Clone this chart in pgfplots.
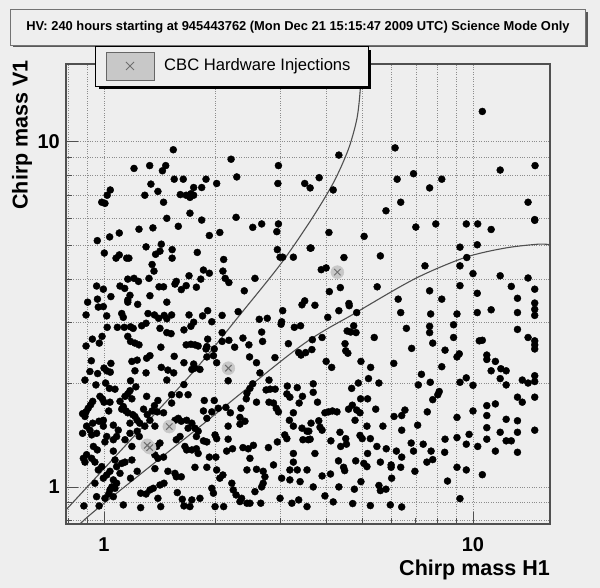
\documentclass[border=0pt]{standalone}
\usepackage{fontspec}
\setmainfont{Liberation Sans}
\usepackage{pgfplots}
\pgfplotsset{compat=1.18}
\definecolor{bg}{RGB}{238,238,238}
\definecolor{frame}{RGB}{80,80,80}
\definecolor{gridc}{RGB}{140,140,140}
\definecolor{curve}{RGB}{80,80,80}
\definecolor{injfill}{RGB}{200,200,200}
\definecolor{injx}{RGB}{110,110,110}

\begin{document}
\begin{tikzpicture}
\fill[bg] (0pt,0pt) rectangle (600pt,588pt);
\useasboundingbox (0pt,0pt) rectangle (600pt,588pt);

\begin{axis}[
    at={(66pt,64pt)}, anchor=south west,
    scale only axis, width=484pt, height=460pt,
    xmode=log, ymode=log,
    xmin=0.789, xmax=16.17, ymin=0.781, ymax=16.8,
    xtick={1,10}, xticklabels={1,10},
    ytick={1,10}, yticklabels={1,10},
    minor xtick={0.8,0.9,2,3,4,5,6,7,8,9},
    minor ytick={0.8,0.9,2,3,4,5,6,7,8,9},
    grid=both,
    grid style={gridc, line width=0.6pt, dash pattern=on 1pt off 1.4pt},
    minor grid style={gridc, line width=0.6pt, dash pattern=on 1pt off 1.4pt},
    xtick pos=bottom, ytick pos=left,
    tick align=inside,
    major tick length=12pt, minor tick length=6pt,
    tick style={frame, line width=0.8pt},
    axis line style={frame, line width=1.2pt},
    ticklabel style={font=\fontsize{20}{20}\selectfont\bfseries, inner sep=0pt},
    xticklabel style={anchor=center, yshift=-21pt},
    yticklabel style={anchor=east, xshift=-6pt},
    xlabel={Chirp mass H1},
    ylabel={Chirp mass V1},
    label style={font=\fontsize{21.5}{22}\selectfont\bfseries, inner sep=0pt},
    xlabel style={at={(axis description cs:1,-0.1)}, anchor=east},
    ylabel style={at={(axis description cs:-0.0909,1.0087)}, anchor=east},
]

% candidate events
\addplot[only marks, mark=*, mark size=3.5pt, mark options={fill=black, draw=black}] coordinates {
% top left
(1.10,15.06) (1.82,15.4) (1.541,9.48) (2.21,8.9) (1.206,8.37) (1.33,8.53) (1.47,8.53) (1.44,8.24) (2.97,8.53) (2.29,7.91)
(1.55,7.79) (1.64,7.79) (1.89,7.79) (1.34,7.54) (2.02,7.57) (2.96,7.57) (3.50,7.57) (1.04,7.25) (1.75,7.37) (1.84,7.37)
(1.40,7.18) (1.02,7.0) (1.29,7.0) (1.61,7.03) (1.67,7.0) (1.72,7.07) (1.71,6.9) (1.75,7.0) (0.986,6.68) (1.006,6.63)
(1.45,6.68) (1.71,6.21) (1.48,6.0) (1.84,5.93) (2.28,6.04) (3.62,7.35)
% top right
(10.6,12.24) (6.15,9.6) (4.33,9.15) (11.85,8.28) (14.73,8.53) (3.83,7.87) (6.23,7.79) (6.9,8.08) (8.23,7.79) (7.63,7.35)
(4.18,7.25) (6.37,6.68) (14.1,6.68) (5.81,6.31) (14.7,5.95)
% middle left
(2.53,5.65) (2.675,5.78) (2.97,5.78) (2.94,5.49) (1.244,5.58) (1.357,5.63) (1.59,5.69) (1.10,5.44) (1.036,5.30) (0.959,5.17)
(1.93,5.35) (2.06,5.46) (1.002,4.76) (1.30,4.96) (1.43,5.05) (1.418,4.82) (1.38,4.72) (1.53,4.87) (1.53,4.60) (1.79,4.78)
(2.95,4.87) (3.0,4.63) (3.05,4.63) (3.26,4.63) (3.62,4.92) (1.078,4.60) (1.10,4.70) (1.152,4.60) (1.168,4.60) (2.11,4.56)
(1.35,4.41) (1.366,4.22) (1.86,4.25) (1.93,4.16) (2.10,4.22) (2.13,4.02) (2.18,3.91) (1.70,4.09) (1.83,4.0) (2.565,4.02)
(1.16,4.0) (1.206,4.02) (1.24,3.94) (1.324,4.02) (1.57,3.94) (1.557,3.87) (1.67,3.83) (1.62,3.73) (1.78,3.79) (0.955,3.82)
(0.996,3.74) (1.105,3.82) (1.138,3.76) (1.41,3.80) (1.45,3.80) (2.40,3.70) (1.044,3.56) (1.176,3.59) (1.16,3.48) (1.16,3.43)
(1.234,3.38) (1.332,3.58) (1.48,3.43) (0.96,3.50) (0.903,3.43) (0.965,3.32) (0.996,3.33) (3.50,3.46) (3.44,3.37) (3.05,3.24)
(0.894,3.15) (1.017,3.13) (1.117,3.18) (1.128,3.10) (1.316,3.18) (1.37,3.15) (1.406,3.08) (1.456,3.14) (1.48,3.07) (1.525,3.15)
(1.70,3.15) (1.85,3.13) (1.91,3.24) (1.96,3.01) (2.09,3.14) (2.31,3.22) (2.635,3.06) (2.77,3.08) (3.03,3.01) (3.02,2.96)
(1.75,3.0) (1.72,2.92) (1.30,2.98) (1.265,2.93) (1.20,2.88) (1.18,2.91) (1.135,2.90) (1.087,2.90) (1.02,2.90) (1.418,2.88)
(1.48,2.80) (1.52,2.78) (1.647,2.85) (2.09,2.80) (2.675,2.81) (3.28,2.90) (3.41,2.93) (0.93,2.68) (0.988,2.73) (0.971,2.61)
(0.894,2.56) (1.16,2.73) (1.18,2.64) (1.213,2.61) (1.244,2.58) (1.426,2.54) (1.67,2.58) (1.72,2.59) (1.764,2.58) (1.80,2.56)
(1.91,2.68) (1.90,2.55) (1.89,2.51) (1.99,2.51) (2.09,2.64) (2.18,2.66) (2.26,2.54) (2.38,2.70) (2.47,2.58) (2.69,2.64)
(3.16,2.60) (3.37,2.45) (3.42,2.41) (3.52,2.45) (0.924,2.32) (1.044,2.28) (1.19,2.31) (1.23,2.33) (1.305,2.36) (1.332,2.40)
(1.55,2.39) (1.647,2.29) (1.75,2.27) (1.764,2.21) (1.73,2.19) (1.90,2.38) (1.98,2.40) (2.02,2.29) (2.48,2.38) (2.59,2.29)
(2.906,2.37) (1.43,2.22) (1.49,2.18) (1.545,2.14) (1.213,2.17) (1.30,2.14) (1.0,2.21) (1.017,2.17) (1.04,2.15) (0.916,2.16)
(0.961,2.13) (1.82,2.19) (2.646,2.14)
% middle right
(4.07,5.46) (5.07,5.32) (7.0,5.66) (7.93,5.78) (9.59,5.78) (10.3,5.78) (11.2,5.57) (14.7,5.92) (3.64,4.92) (4.47,4.62)
(5.61,4.67) (9.22,4.95) (10.27,5.03) (7.41,4.37) (9.22,4.37) (3.88,4.26) (4.0,4.31) (9.62,4.62) (10.0,4.15) (11.85,4.09)
(14.1,4.03) (4.08,3.68) (4.37,3.78) (5.5,3.80) (7.63,3.70) (8.23,3.50) (9.22,3.83) (10.27,3.64) (12.7,3.81) (14.7,3.74)
(13.2,3.52) (3.73,3.36) (4.61,3.40) (4.62,3.35) (4.33,3.24) (4.84,3.2) (6.27,3.50) (6.37,3.2) (7.68,3.17) (9.05,3.17)
(10.27,3.2) (11.2,3.26) (13.2,3.2) (14.7,3.41) (14.7,3.27) (14.7,3.14) (4.04,3.10) (4.75,2.93) (4.56,2.83) (4.66,2.81)
(4.82,2.80) (6.6,2.88) (7.63,2.92) (7.63,2.80) (8.86,2.95) (8.86,2.71) (13.2,2.86) (14.1,2.71) (14.7,2.65) (14.7,2.58)
(14.7,2.51) (10.4,2.65) (10.6,2.66) (3.67,2.67) (3.9,2.71) (3.66,2.50) (4.50,2.60) (4.52,2.48) (4.58,2.44) (5.40,2.71)
(6.82,2.52) (7.78,2.61) (8.40,2.49) (9.18,2.43) (9.05,2.38) (10.9,2.41) (10.9,2.34) (11.5,2.31) (4.0,2.31) (4.14,2.22)
(4.97,2.31) (5.28,2.22) (6.1,2.28) (8.23,2.23) (11.2,2.17) (11.9,2.20) (12.3,2.17) (7.25,2.12)
% bottom left
(0.888,2.04) (0.951,1.975) (1.01,2.0) (1.034,1.93) (1.071,1.92) (1.18,2.03) (1.22,1.95) (1.176,1.90) (1.48,2.04) (1.647,1.98)
(2.17,2.03) (2.53,1.99) (2.486,1.93) (2.80,2.04) (3.14,1.96) (3.34,1.94) (2.82,1.92) (2.91,1.92)
(0.932,1.77) (0.92,1.73) (0.975,1.83) (0.99,1.80) (1.0,1.76) (1.038,1.76) (0.906,1.69) (0.894,1.65) (0.875,1.63) (0.888,1.60)
(1.03,1.66) (1.105,1.77) (1.14,1.83) (1.16,1.86) (1.19,1.80) (1.128,1.71) (1.117,1.68) (1.147,1.66) (1.16,1.64) (1.196,1.62)
(1.213,1.60) (1.23,1.56) (1.28,1.68) (1.305,1.83) (1.37,1.72) (1.40,1.78) (1.35,1.66) (1.394,1.65) (1.31,1.62) (1.45,1.64)
(1.525,1.85) (1.60,1.85) (1.69,1.85) (1.525,1.75) (1.87,1.78) (1.99,1.78) (2.04,1.69) (1.86,1.66) (1.96,1.65) (2.14,1.70)
(2.20,1.64) (2.35,1.69) (2.43,1.80) (2.44,1.87) (2.59,1.76) (2.75,1.91) (2.80,1.76) (2.88,1.75) (2.93,1.69) (2.97,1.65)
(3.13,1.86) (3.19,1.82) (3.45,1.83) (3.38,1.75) (3.26,1.64)
(0.996,1.56) (0.969,1.55) (0.932,1.53) (0.897,1.50) (0.916,1.46) (0.875,1.43) (0.926,1.415) (0.955,1.43) (0.996,1.50) (1.06,1.51)
(1.093,1.46) (1.082,1.40) (1.06,1.37) (1.017,1.40) (1.006,1.35) (1.176,1.53) (1.25,1.53) (1.23,1.45) (1.176,1.43) (1.14,1.37)
(1.19,1.31) (1.246,1.40) (1.29,1.50) (1.374,1.50) (1.332,1.56) (1.418,1.34) (1.39,1.31) (1.557,1.56) (1.59,1.58) (1.62,1.55)
(1.675,1.56) (1.69,1.48) (1.73,1.53) (1.764,1.48) (1.80,1.45) (1.78,1.40) (1.57,1.37) (1.607,1.40) (1.657,1.31) (1.90,1.58)
(2.17,1.50) (2.336,1.59) (2.336,1.52) (2.41,1.55) (2.0,1.415) (1.90,1.35) (1.86,1.36) (2.02,1.38) (2.17,1.375) (3.18,1.56)
(3.26,1.50) (3.44,1.48) (3.55,1.45) (3.46,1.37) (3.58,1.37) (2.95,1.35) (3.09,1.415) (3.13,1.38) (2.79,1.30)
(0.936,1.31) (0.959,1.28) (0.897,1.24) (0.879,1.21) (0.888,1.18) (0.926,1.21) (0.945,1.18) (0.965,1.12) (0.986,1.145) (0.996,1.06)
(1.017,1.083) (1.038,1.11) (1.06,1.27) (1.071,1.197) (1.117,1.17) (1.14,1.18) (1.19,1.197) (1.082,1.145) (1.105,1.095) (1.06,1.048)
(1.082,1.025) (1.18,1.06) (1.23,1.11) (1.374,1.238) (1.40,1.21) (1.45,1.22) (1.374,1.13) (1.675,1.28) (1.73,1.28) (1.78,1.29)
(1.80,1.25) (1.49,1.11) (1.557,1.095) (1.57,1.07) (1.62,1.07) (1.764,1.14) (1.90,1.14) (1.93,1.22) (2.01,1.22) (2.02,1.12)
(2.10,1.083) (2.06,1.06) (2.15,1.27) (2.23,1.29) (2.38,1.30) (2.46,1.29) (2.54,1.32) (2.486,1.21) (2.44,1.12) (2.59,1.125)
(2.70,1.11) (2.73,1.07) (2.88,1.158) (3.03,1.06) (3.19,1.12) (3.34,1.12) (3.40,1.036) (3.26,1.25) (3.26,1.18) (3.55,1.12)
(0.945,1.025) (0.955,0.937) (1.006,0.927) (1.03,0.954) (1.06,0.937) (1.05,1.0) (1.038,0.98) (1.071,0.991) (0.882,0.881) (0.97,0.881)
(1.128,0.887) (1.257,0.871) (1.257,0.959) (1.30,0.954) (1.332,0.98) (1.36,0.991) (1.418,1.013) (1.454,1.025) (1.40,0.927) (1.425,0.877)
(1.58,0.963) (1.63,0.921) (1.647,0.881) (1.71,0.877) (1.73,0.917) (1.82,0.927) (1.96,0.991) (1.98,0.959) (2.0,0.877) (2.11,0.877)
(2.22,1.025) (2.24,0.98) (2.28,0.948) (2.36,0.927) (2.336,0.907) (2.44,0.897) (2.486,0.897) (2.565,0.969) (2.675,1.0) (2.70,1.025)
(2.66,0.897) (3.0,0.927) (3.23,0.897) (3.37,0.917) (3.55,0.877) (3.19,1.048)
% bottom right
(3.69,1.99) (3.69,1.88) (3.79,1.76) (4.69,1.93) (4.89,2.0) (5.21,2.06) (5.56,2.0) (7.11,1.975) (7.66,2.01) (9.22,2.01)
(9.59,2.07) (10.0,1.97) (11.85,2.06) (12.3,1.975) (13.6,2.04) (14.1,2.0) (14.7,2.10) (14.7,2.02) (14.7,1.82) (13.2,1.82)
(13.6,1.76) (3.97,1.64) (4.06,1.65) (4.16,1.66) (4.28,1.65) (4.60,1.68) (4.71,1.725) (4.84,1.67) (4.94,1.64) (4.96,1.80)
(5.18,1.80) (5.45,1.68) (4.79,1.56) (3.64,1.53) (3.59,1.45) (3.82,1.555) (3.85,1.49) (3.90,1.46) (3.62,1.375) (3.73,1.25)
(4.12,1.36) (4.36,1.44) (4.52,1.38) (4.38,1.31) (4.54,1.33) (4.94,1.41) (5.01,1.38) (5.27,1.38) (5.16,1.50) (5.70,1.50)
(6.11,1.60) (6.41,1.61) (6.54,1.67) (6.41,1.46) (7.52,1.65) (7.78,1.79) (8.03,1.85) (8.1,1.89) (7.08,1.51) (5.49,1.31)
(5.82,1.29) (5.18,1.25) (6.2,1.27) (6.41,1.22) (6.8,1.34) (6.9,1.27) (7.33,1.33) (7.7,1.27) (7.78,1.20) (7.5,1.18)
(8.4,1.375) (8.38,1.26) (9.05,1.59) (9.05,1.39) (9.59,1.33) (9.76,1.42) (10.0,1.66) (10.3,1.31) (10.9,1.72) (10.9,1.61)
(10.9,1.485) (10.9,1.375) (11.5,1.74) (11.5,1.27) (11.85,1.44) (12.3,1.57) (12.3,1.36) (12.7,1.36) (13.2,1.555) (13.2,1.44)
(13.2,1.26) (14.7,1.46) (4.32,1.19) (4.81,1.19) (5.06,1.17) (5.16,1.145) (4.46,1.14) (4.49,1.115) (5.61,1.18) (6.0,1.158)
(6.0,1.14) (6.37,1.14) (6.02,1.06) (6.96,1.11) (8.53,1.04) (9.05,1.14) (9.59,1.12) (10.6,1.085) (3.9,1.076) (4.11,1.09)
(4.97,1.036) (4.77,0.985) (3.69,1.0) (4.33,1.0) (5.56,1.01) (5.61,0.976) (5.81,0.985) (3.97,0.942) (4.18,0.905) (4.72,0.895)
(5.27,0.883) (5.97,0.887) (6.41,0.875) (9.22,0.925)
};

% reference curves
\addplot[curve, line width=1.1pt, smooth] coordinates {
(0.789,0.858) (1.176,1.362) (1.765,2.184) (2.336,3.153) (3.0,4.40) (3.617,5.875) (4.18,7.59) (4.59,9.48) (4.84,11.58) (4.94,13.84) (4.99,16.8)
};
\addplot[curve, line width=1.1pt, smooth] coordinates {
(0.861,0.781) (0.975,0.877) (1.82,1.496) (3.398,2.551) (4.79,3.188) (6.96,4.01) (9.51,4.62) (12.21,4.92) (15.03,5.05) (16.17,5.03)
};

% CBC hardware injections
\addplot[only marks, mark=*, mark size=6.5pt, mark options={fill=injfill, draw=injfill}] coordinates {
(4.29,4.19) (2.173,2.208) (1.503,1.496) (1.31,1.32) (1.33,1.30)
};
\addplot[only marks, mark=x, mark size=4.5pt, mark options={draw=injx, line width=1pt}] coordinates {
(4.29,4.19) (2.173,2.208) (1.503,1.496) (1.31,1.32) (1.33,1.30)
};
\end{axis}

% title box
\fill[black!65] (13pt,541pt) rectangle (587.5pt,576.4pt);
\filldraw[fill=bg, draw=black!55, line width=0.6pt] (10.7pt,543pt) rectangle (585.5pt,578.4pt);
\node[font=\fontsize{12.9}{14}\selectfont\bfseries] at (298pt,560.7pt) {HV: 240 hours starting at 945443762 (Mon Dec 21 15:15:47 2009 UTC) Science Mode Only};

% legend
\fill[black] (99pt,499pt) rectangle (371pt,538.3pt);
\filldraw[fill=bg, draw=black, line width=0.8pt] (95.7pt,502pt) rectangle (368pt,541.3pt);
\filldraw[fill=injfill, draw=black!60, line width=0.8pt] (106pt,508pt) rectangle (154pt,536pt);
\draw[injx, line width=0.8pt] (126pt,518pt) -- (134pt,526pt) (126pt,526pt) -- (134pt,518pt);
\node[font=\fontsize{16.6}{18}\selectfont, anchor=west, inner sep=0pt] at (164pt,522pt) {CBC Hardware Injections};
\end{tikzpicture}
\end{document}
